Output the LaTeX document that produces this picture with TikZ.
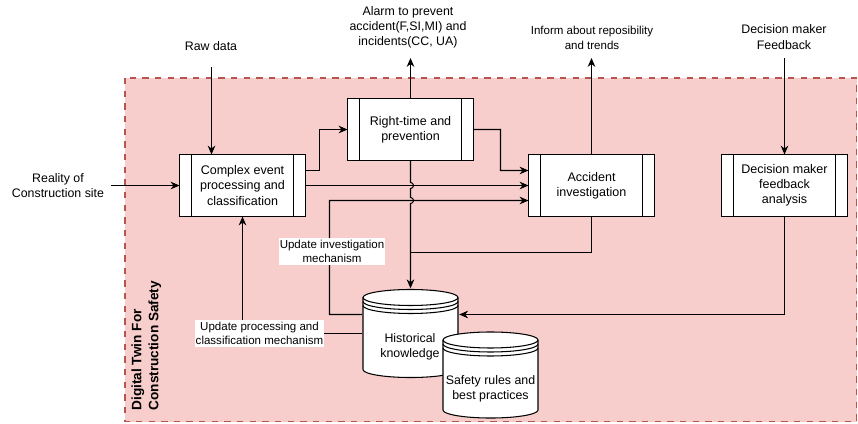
\documentclass[tikz,border=0pt]{standalone}
\usepackage{fontspec}
\setmainfont{Liberation Sans}
\usetikzlibrary{arrows.meta,calc}
\definecolor{dtfill}{HTML}{F8CECC}
\definecolor{dtline}{HTML}{B85450}
\begin{document}
\begin{tikzpicture}[x=0.025cm,y=-0.025cm,
  every node/.style={inner sep=0pt,outer sep=0pt},
  txt/.style={align=center,font=\fontsize{8.8}{10.8}\selectfont},
  small/.style={align=center,font=\fontsize{8.2}{10.4}\selectfont},
  proc/.style={draw=black,fill=white,line width=0.75pt,minimum width=3.15cm,minimum height=1.55cm,
    align=center,font=\fontsize{8.9}{10.8}\selectfont,
    path picture={
      \draw[line width=0.75pt] ([xshift=0.3cm]path picture bounding box.north west) -- ([xshift=0.3cm]path picture bounding box.south west);
      \draw[line width=0.75pt] ([xshift=-0.3cm]path picture bounding box.north east) -- ([xshift=-0.3cm]path picture bounding box.south east);}},
  store/.style={minimum width=2.435cm,
    path picture={
      \draw[line width=0.75pt,fill=white] ([xshift=0.03cm,yshift=-0.23cm]path picture bounding box.north west)
        -- ([xshift=0.03cm,yshift=0.23cm]path picture bounding box.south west)
        arc[start angle=180,end angle=360,x radius=1.1875cm,y radius=0.2cm]
        -- ([xshift=-0.03cm,yshift=-0.23cm]path picture bounding box.north east)
        arc[start angle=0,end angle=180,x radius=1.1875cm,y radius=0.2cm] -- cycle;
      \foreach \d in {0.23,0.33,0.43}
        \draw[line width=0.75pt] ([xshift=0.03cm,yshift=-\d cm]path picture bounding box.north west)
          arc[start angle=180,end angle=360,x radius=1.1875cm,y radius=0.2cm];}},
  conn/.style={line width=0.75pt,draw=black},
  arr/.style={conn,-{Stealth[length=6.3pt,width=5.4pt,inset=2pt]}},
  tag/.style={small,fill=white,inner xsep=0.5pt,inner ysep=1.2pt},
  dtbox/.style={draw=dtline,fill=dtfill,line width=1.4pt,dash pattern=on 4.5pt off 4.5pt}
]
\useasboundingbox (0,0) rectangle (858,423);
\draw[dtbox] (125,78) rectangle (856.5,421.5);
\node[rotate=90,anchor=north west,align=left,font=\bfseries\fontsize{9.7}{12}\selectfont] (dtlabel) at (131.5,410.5) {Digital Twin For\\Construction Safety};

% process boxes
\node[proc] (complex) at (242.5,185.5) {Complex event\\processing and\\classification};
\node[proc] (righttime) at (410.5,129.5) {Right-time and\\prevention};
\node[proc] (accident) at (591.5,185.5) {Accident\\investigation};
\node[proc] (decision) at (784.5,185.5) {Decision maker\\feedback\\analysis};

% outside texts
\node[txt] (raw) at (211,46) {Raw data};
\node[txt] (reality) at (58,185.5) {Reality of\\Construction site};
\node[txt] (alarm) at (408,27) {Alarm to prevent\\accident(F,SI,MI) and\\incidents(CC, UA)};
\node[small] (inform) at (592,38) {Inform about reposibility\\and trends};
\node[txt] (dmf) at (784,37) {Decision maker\\Feedback};

\coordinate (rawin) at (211.5,67);
\coordinate (realin) at (111,185.5);
\coordinate (alarmout) at (410.5,58);
\coordinate (informout) at (591.5,58);
\coordinate (dmfin) at (784.5,58);

% stores
\node[store,minimum height=2.26cm] (hist) at (410.5,333.5) {};
\node[txt] (histtxt) at (410,347) {Historical\\knowledge};
\node[store,minimum height=2.21cm] (safety) at (490.5,375) {};
\node[txt] (safetytxt) at (490.5,389) {Safety rules and\\best practices};

% connectors
\draw[arr] (rawin) -- (rawin |- complex.north);
\draw[arr] (realin) -- (complex.west);
\draw[arr] (righttime.north) -- (alarmout);
\draw[arr] (accident.north) -- (informout);
\draw[arr] (dmfin) -- (decision.north);
\draw[arr] ([yshift=0.375cm]complex.east) -- ++(14,0) |- (righttime.west);
\draw[arr] (righttime.east) -| (500.5,170.5) -- ([yshift=0.375cm]accident.west);
\draw[arr] (complex.east) -- (accident.west);
\draw[arr] ([yshift=0.475cm]hist.west) -| (329.5,200.5) -- ([yshift=-0.375cm]accident.west);
\draw[conn] (accident.south) |- (410.5,252.5);
\draw[arr] (decision.south) |- ([yshift=0.475cm]hist.east);
\draw[arr] (hist.west) -| (complex.south);
\draw[arr] (righttime.south) -- (410.5,182.5) arc[start angle=90,end angle=-90,radius=0.075cm]
  -- (410.5,197.5) arc[start angle=90,end angle=-90,radius=0.075cm] -- (hist.north);

% edge labels
\node[tag] (taginv) at (332,251.5) {Update investigation\\mechanism};
\node[tag] (tagproc) at (259.5,333.5) {Update processing and\\classification mechanism};
\end{tikzpicture}
\end{document}
